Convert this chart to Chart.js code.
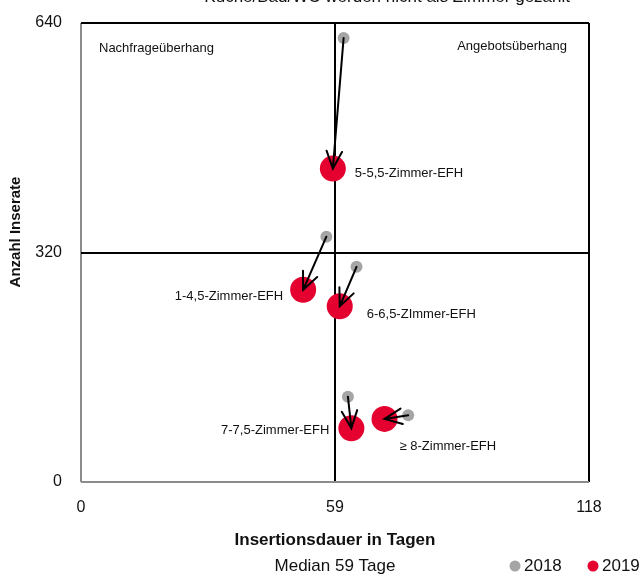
<!DOCTYPE html>
<html>
<head>
<meta charset="utf-8">
<title>Einfamilienhäuser nach Zimmerzahl</title>
<script src="https://cdn.jsdelivr.net/npm/chart.js@4/dist/chart.umd.min.js"></script>
<style>
  body { margin: 0; background: #fff; }
</style>
</head>
<body>
<canvas id="efhChart" width="643" height="574"></canvas>
<script>
// Data
const categories = ['5-5,5-Zimmer-EFH', '1-4,5-Zimmer-EFH', '6-6,5-ZImmer-EFH', '7-7,5-Zimmer-EFH', '≥ 8-Zimmer-EFH'];
const days2018 = [61, 57, 64, 62, 76];
const ads2018 = [619, 342, 300, 119, 93];
const days2019 = [58.5, 51.6, 60.1, 62.8, 70.5];
const ads2019 = [437, 268, 245, 75, 88];
const xTicks = [0, 59, 118];
const yTicks = [0, 320, 640];
const medianDays = 59;
const seriesNames = ['2018', '2019'];

// label placement relative to the 2019 point (style only)
const labelOffsets = [[22, 5, 'left'], [-20, 7, 'right'], [27, 8, 'left'], [-22, 2, 'right'], [15, 28, 'left']];

const FONT = "'Liberation Sans', Arial, sans-serif";
const GREY = '#a5a5a5';
const RED = '#e4002f';
Chart.defaults.font.family = FONT;
Chart.defaults.color = '#000';

const toPoints = (xs, ys) => xs.map((x, i) => ({ x: x, y: ys[i] }));

const overlay = {
    id: 'overlay',
    afterDatasetsDraw(chart) {
        const ctx = chart.ctx;
        const from = chart.getDatasetMeta(0).data;
        const to = chart.getDatasetMeta(1).data;
        const xs = chart.scales.x;

        // arrows 2018 -> 2019
        ctx.save();
        ctx.strokeStyle = '#000';
        ctx.lineWidth = 2;
        ctx.lineCap = 'round';
        for (let i = 0; i < categories.length; i++) {
            const a = from[i], b = to[i];
            const ang = Math.atan2(b.y - a.y, b.x - a.x);
            const len = 19, spread = 0.42;
            ctx.beginPath();
            ctx.moveTo(a.x, a.y);
            ctx.lineTo(b.x, b.y);
            ctx.moveTo(b.x - len * Math.cos(ang - spread), b.y - len * Math.sin(ang - spread));
            ctx.lineTo(b.x, b.y);
            ctx.lineTo(b.x - len * Math.cos(ang + spread), b.y - len * Math.sin(ang + spread));
            ctx.stroke();
        }

        // category labels
        ctx.fillStyle = '#111';
        ctx.font = '13px ' + FONT;
        ctx.textBaseline = 'middle';
        categories.forEach((name, i) => {
            const o = labelOffsets[i];
            ctx.textAlign = o[2];
            ctx.fillText(name, to[i].x + o[0], to[i].y + o[1]);
        });

        // quadrant labels
        ctx.textAlign = 'left';
        ctx.fillText('Nachfrageüberhang', 99, 48);
        ctx.textAlign = 'right';
        ctx.fillText('Angebotsüberhang', 567, 46);

        // note at the top (cut off in the original)
        ctx.font = '17px ' + FONT;
        ctx.textBaseline = 'alphabetic';
        ctx.fillText('Küche/Bad/WC werden nicht als Zimmer gezählt', 570, 2);

        // axis titles
        const mx = xs.getPixelForValue(medianDays);
        ctx.textAlign = 'center';
        ctx.textBaseline = 'middle';
        ctx.font = 'bold 17px ' + FONT;
        ctx.fillText('Insertionsdauer in Tagen', mx, 540);
        ctx.font = '17px ' + FONT;
        ctx.fillText('Median ' + medianDays + ' Tage', mx, 566);

        ctx.save();
        ctx.translate(16, 232);
        ctx.rotate(-Math.PI / 2);
        ctx.font = 'bold 15px ' + FONT;
        ctx.fillText('Anzahl Inserate', 0, 0);
        ctx.restore();

        // legend
        const legend = [[515, GREY], [593, RED]];
        ctx.font = '17px ' + FONT;
        ctx.textAlign = 'left';
        legend.forEach((l, i) => {
            ctx.fillStyle = l[1];
            ctx.beginPath();
            ctx.arc(l[0], 566, 5.5, 0, Math.PI * 2);
            ctx.fill();
            ctx.fillStyle = '#111';
            ctx.fillText(seriesNames[i], l[0] + 9, 566);
        });
        ctx.restore();
    }
};

const lineColor = (c) => (c.tick && c.tick.value === 0) ? '#8c8c8c' : '#000';

new Chart(document.getElementById('efhChart').getContext('2d'), {
    type: 'scatter',
    data: {
        datasets: [
            {
                label: seriesNames[0],
                data: toPoints(days2018, ads2018),
                backgroundColor: GREY,
                borderWidth: 0,
                pointRadius: 6,
                pointHoverRadius: 6
            },
            {
                label: seriesNames[1],
                data: toPoints(days2019, ads2019),
                backgroundColor: RED,
                borderWidth: 0,
                pointRadius: 13,
                pointHoverRadius: 13
            }
        ]
    },
    options: {
        responsive: false,
        animation: false,
        layout: { padding: { top: 23, right: 54, left: 0, bottom: 0 } },
        plugins: {
            legend: { display: false },
            tooltip: { enabled: false }
        },
        scales: {
            x: {
                type: 'linear',
                min: 0,
                max: 118,
                afterBuildTicks: (s) => { s.ticks = xTicks.map(v => ({ value: v })); },
                afterFit: (s) => { s.height = 92; s.paddingLeft = 0; s.paddingRight = 0; },
                ticks: { padding: 16, font: { size: 16 }, color: '#111' },
                grid: { color: lineColor, lineWidth: 2, drawTicks: false },
                border: { display: false }
            },
            y: {
                type: 'linear',
                min: 0,
                max: 640,
                afterBuildTicks: (s) => { s.ticks = yTicks.map(v => ({ value: v })); },
                afterFit: (s) => { s.width = 81; s.paddingTop = 0; s.paddingBottom = 0; },
                ticks: { padding: 19, font: { size: 16 }, color: '#111' },
                grid: { color: lineColor, lineWidth: 2, drawTicks: false },
                border: { display: false }
            }
        }
    },
    plugins: [overlay]
});
</script>
</body>
</html>
